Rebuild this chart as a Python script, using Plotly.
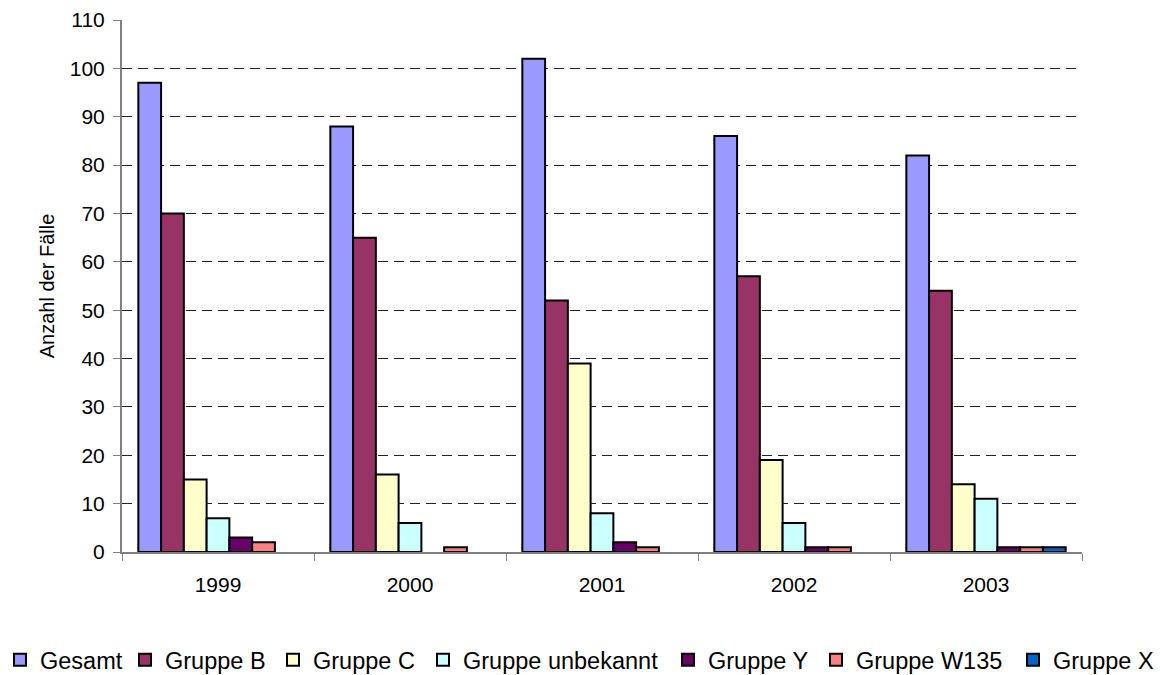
import plotly.graph_objects as go

years = ["1999", "2000", "2001", "2002", "2003"]
series_names = ["Gesamt", "Gruppe B", "Gruppe C", "Gruppe unbekannt", "Gruppe Y", "Gruppe W135", "Gruppe X"]
gesamt = [97, 88, 102, 86, 82]
gruppe_b = [70, 65, 52, 57, 54]
gruppe_c = [15, 16, 39, 19, 14]
gruppe_unbekannt = [7, 6, 8, 6, 11]
gruppe_y = [3, 0, 2, 1, 1]
gruppe_w135 = [2, 1, 1, 1, 1]
gruppe_x = [0, 0, 0, 0, 1]
colors = ["#9999FF", "#993366", "#FFFFCC", "#CCFFFF", "#660066", "#FF8080", "#0066CC"]

all_values = [gesamt, gruppe_b, gruppe_c, gruppe_unbekannt, gruppe_y, gruppe_w135, gruppe_x]

# layout: pixel x where each legend entry's text starts (one legend per entry)
legend_text_x = [33, 162, 310, 460, 705, 853, 1050]
W, H = 1160, 675

fig = go.Figure()
legend_layouts = {}
for i, (name, vals, col) in enumerate(zip(series_names, all_values, colors)):
    lid = "legend" if i == 0 else f"legend{i + 1}"
    fig.add_trace(go.Bar(
        x=years, y=[v if v != 0 else None for v in vals], name=name,
        marker=dict(color=col, line=dict(color="black", width=2)),
        legend=lid,
    ))
    legend_layouts[lid] = dict(
        x=(legend_text_x[i] - 37) / W, xref="container", xanchor="left",
        y=15 / H, yref="container", yanchor="middle",
        orientation="h", font=dict(size=23.5), itemwidth=30,
        borderwidth=0, bgcolor="rgba(0,0,0,0)",
    )

fig.update_layout(
    width=W, height=H,
    margin=dict(l=122, r=78, t=20, b=123, autoexpand=False),
    barmode="group", bargap=0.17, bargroupgap=0,
    plot_bgcolor="white", paper_bgcolor="white",
    font=dict(family="Liberation Sans, Arial, sans-serif", size=21, color="black"),
    showlegend=True,
    **legend_layouts,
)
fig.update_yaxes(
    range=[0, 110], dtick=10, tick0=0,
    showgrid=True, gridcolor="#222222", griddash="10px,6px", gridwidth=1,
    showline=True, linecolor="#808080", linewidth=2,
    ticks="outside", ticklen=7, tickcolor="#808080", tickwidth=1,
    ticklabelstandoff=4,
    zeroline=False,
    title=dict(text="Anzahl der Fälle", font=dict(size=20), standoff=10),
)
fig.update_xaxes(
    showline=True, linecolor="#808080", linewidth=2,
    ticks="outside", ticklen=7, tickcolor="#808080", tickson="boundaries",
    ticklabelstandoff=13,
    showgrid=False,
)

fig.write_html("out.html")
